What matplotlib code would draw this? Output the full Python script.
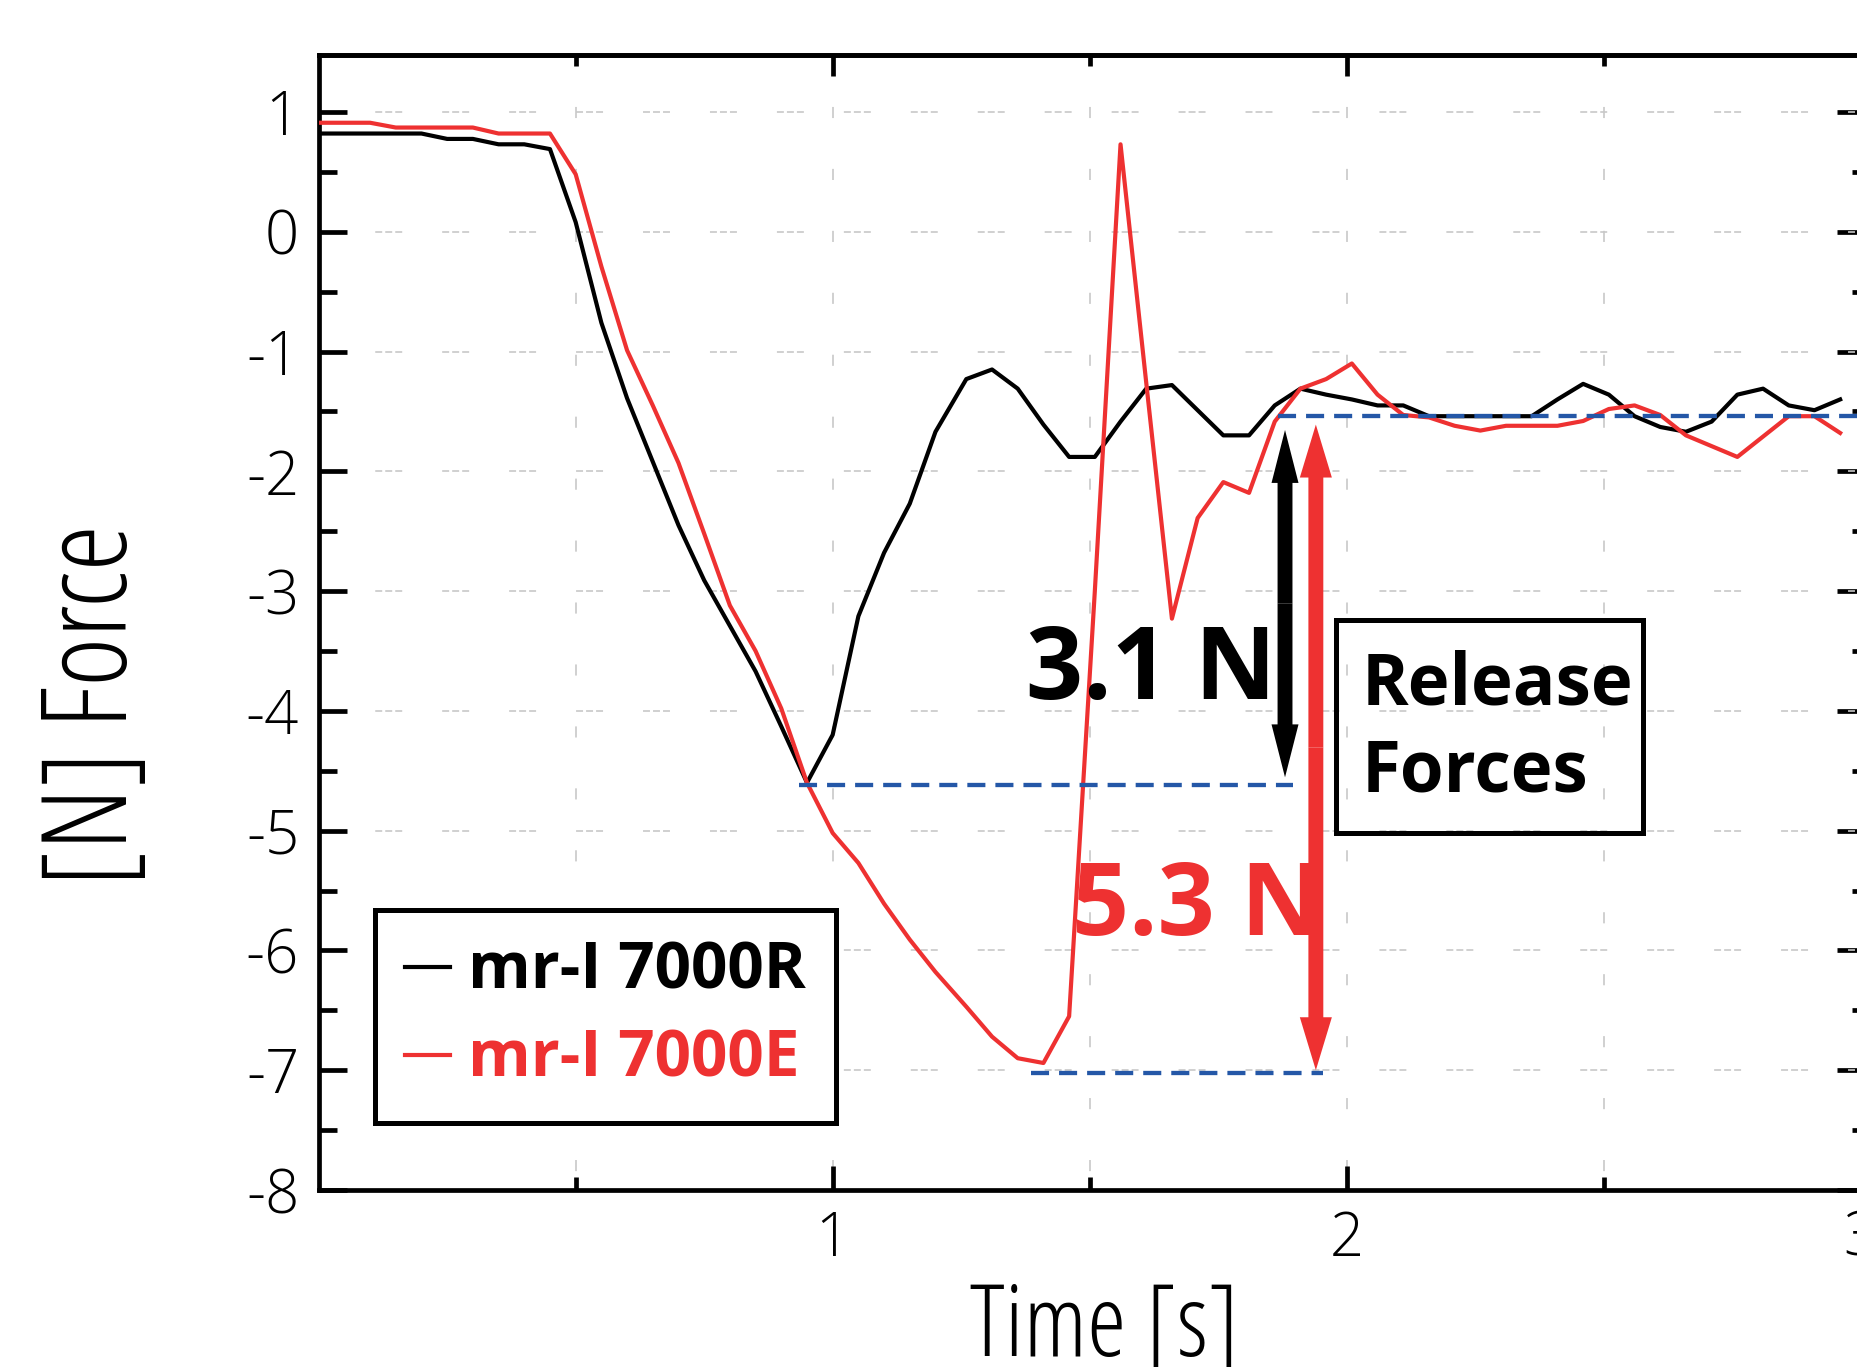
import matplotlib
matplotlib.use('Agg')
import matplotlib.pyplot as plt
from matplotlib import font_manager
from matplotlib.font_manager import FontProperties
from matplotlib.patches import Rectangle

plt.rcParams['lines.scale_dashes'] = False

# time axis [s] and forces [N]
time_s = [0.00, 0.05, 0.10, 0.15, 0.20, 0.25, 0.30, 0.35, 0.40, 0.45,
          0.50, 0.55, 0.60, 0.65, 0.70, 0.75, 0.80, 0.85, 0.90, 0.95,
          1.00, 1.05, 1.10, 1.15, 1.20, 1.26, 1.31, 1.36, 1.41, 1.46,
          1.51, 1.56, 1.61, 1.66, 1.71, 1.76, 1.81, 1.86, 1.91, 1.96,
          2.01, 2.06, 2.11, 2.16, 2.21, 2.26, 2.31, 2.36, 2.41, 2.46,
          2.51, 2.56, 2.61, 2.66, 2.71, 2.76, 2.81, 2.86, 2.91, 2.96]

force_7000R = [0.82, 0.82, 0.82, 0.82, 0.82, 0.775, 0.775, 0.73, 0.73, 0.69,
               0.08, -0.76, -1.39, -1.92, -2.45, -2.91, -3.29, -3.67, -4.13, -4.60,
               -4.20, -3.21, -2.68, -2.27, -1.67, -1.23, -1.15, -1.31, -1.61, -1.88,
               -1.88, -1.585, -1.31, -1.28, -1.49, -1.70, -1.70, -1.45, -1.31, -1.36,
               -1.40, -1.45, -1.45, -1.54, -1.54, -1.54, -1.54, -1.54, -1.40, -1.27,
               -1.36, -1.54, -1.63, -1.67, -1.585, -1.36, -1.31, -1.45, -1.49, -1.40]

force_7000E = [0.91, 0.91, 0.91, 0.87, 0.87, 0.87, 0.87, 0.82, 0.82, 0.82,
               0.48, -0.29, -0.99, -1.45, -1.93, -2.52, -3.12, -3.50, -3.98, -4.60,
               -5.02, -5.27, -5.61, -5.91, -6.18, -6.47, -6.72, -6.90, -6.94, -6.55,
               -3.00, 0.73, -1.26, -3.23, -2.39, -2.09, -2.18, -1.585, -1.31, -1.23,
               -1.10, -1.36, -1.53, -1.55, -1.62, -1.66, -1.62, -1.62, -1.62, -1.58,
               -1.48, -1.45, -1.53, -1.70, -1.79, -1.88, -1.71, -1.54, -1.54, -1.68]

labels = ['mr-I 7000R', 'mr-I 7000E']
colors = ['black', '#ee3131']

# annotation levels
release_level = -1.535
min_level_R = -4.62
min_level_E = -7.02
arrow_R = (1.88, -1.655, -4.555)   # x, top tip, bottom tip
arrow_E = (1.94, -1.61, -7.00)

yticks = [-8, -7, -6, -5, -4, -3, -2, -1, 0, 1]
xticks = [1, 2, 3]


def font_file(name):
    for f in font_manager.fontManager.ttflist:
        if f.fname.endswith(name):
            return f.fname
    return None


def fprop(name, size, fallback):
    path = font_file(name)
    if path:
        fp = FontProperties(fname=path)
    else:
        fp = FontProperties(**fallback)
    fp.set_size(size)
    return fp


cond = lambda s: fprop('OpenSans-CondLight.ttf', s, {'family': 'DejaVu Sans', 'stretch': 'condensed'})
light = lambda s: fprop('OpenSans-Light.ttf', s, {'family': 'DejaVu Sans', 'weight': 'light'})
bold = lambda s: fprop('OpenSans-Bold.ttf', s, {'family': 'DejaVu Sans', 'weight': 'bold'})

fig = plt.figure(figsize=(18.57, 13.67), dpi=100)
ax = fig.add_axes([0.1716, 0.1295, 0.8304, 0.8303])

ax.plot(time_s, force_7000R, color=colors[0], lw=3.0, label=labels[0], zorder=3)
ax.plot(time_s, force_7000E, color=colors[1], lw=3.0, label=labels[1], zorder=3.1)

blue = '#2457a7'
ax.plot([1.867, 3.0], [release_level, release_level], color=blue, lw=3.1,
        dashes=(13, 7.2), zorder=4)
ax.plot([0.934, 1.896], [min_level_R, min_level_R], color=blue, lw=3.1,
        dashes=(13, 7.2), zorder=4)
ax.plot([1.385, 1.953], [min_level_E, min_level_E], color=blue, lw=3.1,
        dashes=(13, 7.2), zorder=4)

# double headed arrows
for (x, top, bot), col, hw in [(arrow_R, 'black', 0.0525), (arrow_E, colors[1], 0.0623)]:
    mid = (top + bot) / 2
    for tip in (top, bot):
        ax.arrow(x, mid, 0, tip - mid, width=0.029, head_width=hw, head_length=0.442,
                 length_includes_head=True, color=col, lw=0, zorder=5)

ax.text(1.62, -3.90, '3.1 N', color='black', ha='center', va='baseline',
        fontproperties=bold(72), zorder=6)
ax.text(1.708, -5.87, '5.3 N', color=colors[1], ha='center', va='baseline',
        fontproperties=bold(72), zorder=4.5)

ax.add_patch(Rectangle((1.979, -5.018), 0.598, 1.773, fill=False, lw=3.6,
                       edgecolor='black', zorder=6))
ax.text(2.03, -3.95, 'Release', ha='left', va='baseline', fontproperties=bold(51), zorder=6)
ax.text(2.03, -4.67, 'Forces', ha='left', va='baseline', fontproperties=bold(51), zorder=6)

ax.set_xlim(0, 3)
ax.set_ylim(-8, 1.476)

ax.set_xticks(xticks)
ax.set_xticklabels([str(v) for v in xticks])
ax.set_xticks([0.5, 1.5, 2.5], minor=True)
ax.set_yticks(yticks)
ax.set_yticklabels([str(v) for v in yticks])
ax.set_yticks([v + 0.5 for v in yticks[:-1]], minor=True)

for lbl in ax.get_xticklabels() + ax.get_yticklabels():
    lbl.set_fontproperties(light(43))

ax.tick_params(which='both', direction='in', width=3.4, color='black')
ax.tick_params(axis='y', which='major', length=20, pad=14)
ax.tick_params(axis='y', which='minor', length=13)
ax.tick_params(axis='x', which='major', length=17, pad=14)
ax.tick_params(axis='x', which='minor', length=9.4)

for sp in ax.spines.values():
    sp.set_linewidth(3.4)

# opposite-side ticks
sec_y = ax.secondary_yaxis('right')
sec_y.set_yticks(yticks)
sec_y.set_yticks([v + 0.5 for v in yticks[:-1]], minor=True)
sec_y.tick_params(which='both', direction='in', width=3.4, labelright=False)
sec_y.tick_params(which='major', length=17)
sec_y.tick_params(which='minor', length=6.5)
sec_y.spines['right'].set_linewidth(3.4)

sec_x = ax.secondary_xaxis('top')
sec_x.set_xticks(xticks)
sec_x.set_xticks([0.5, 1.5, 2.5], minor=True)
sec_x.tick_params(which='both', direction='in', width=3.4, labeltop=False)
sec_x.tick_params(which='major', length=15)
sec_x.tick_params(which='minor', length=8)
sec_x.spines['top'].set_linewidth(3.4)

# grid
ax.set_axisbelow(True)
ax.yaxis.grid(True, which='major', color='#c8c8c8', lw=1.2,
              linestyle=(7.7, (5.0, 2.2, 5.0, 2.2, 5.0, 28.8)))
ax.xaxis.grid(True, which='both', color='#c8c8c8', lw=1.2,
              linestyle=(31, (8, 36.6)))

ax.set_xlabel('Time [s]', fontproperties=cond(72))
ax.xaxis.label.set_va('baseline')
ax.xaxis.set_label_coords(0.51, -0.1463)
ax.set_ylabel('[N] Force', fontproperties=cond(85), rotation=90,
              rotation_mode='anchor', ha='center', va='baseline')
ax.yaxis.set_label_coords(-0.1243, 0.427)

leg = ax.legend(loc='upper left', bbox_to_anchor=(0.0368, 0.2467), borderaxespad=0,
                prop=bold(46), labelcolor='linecolor', handlelength=0.7,
                handletextpad=0.28, borderpad=0.47, labelspacing=0.36,
                fancybox=False, framealpha=1, edgecolor='black')
leg.get_frame().set_linewidth(3.6)
for h in leg.get_lines():
    h.set_linewidth(3.0)

fig.savefig('out.png', dpi=100)
